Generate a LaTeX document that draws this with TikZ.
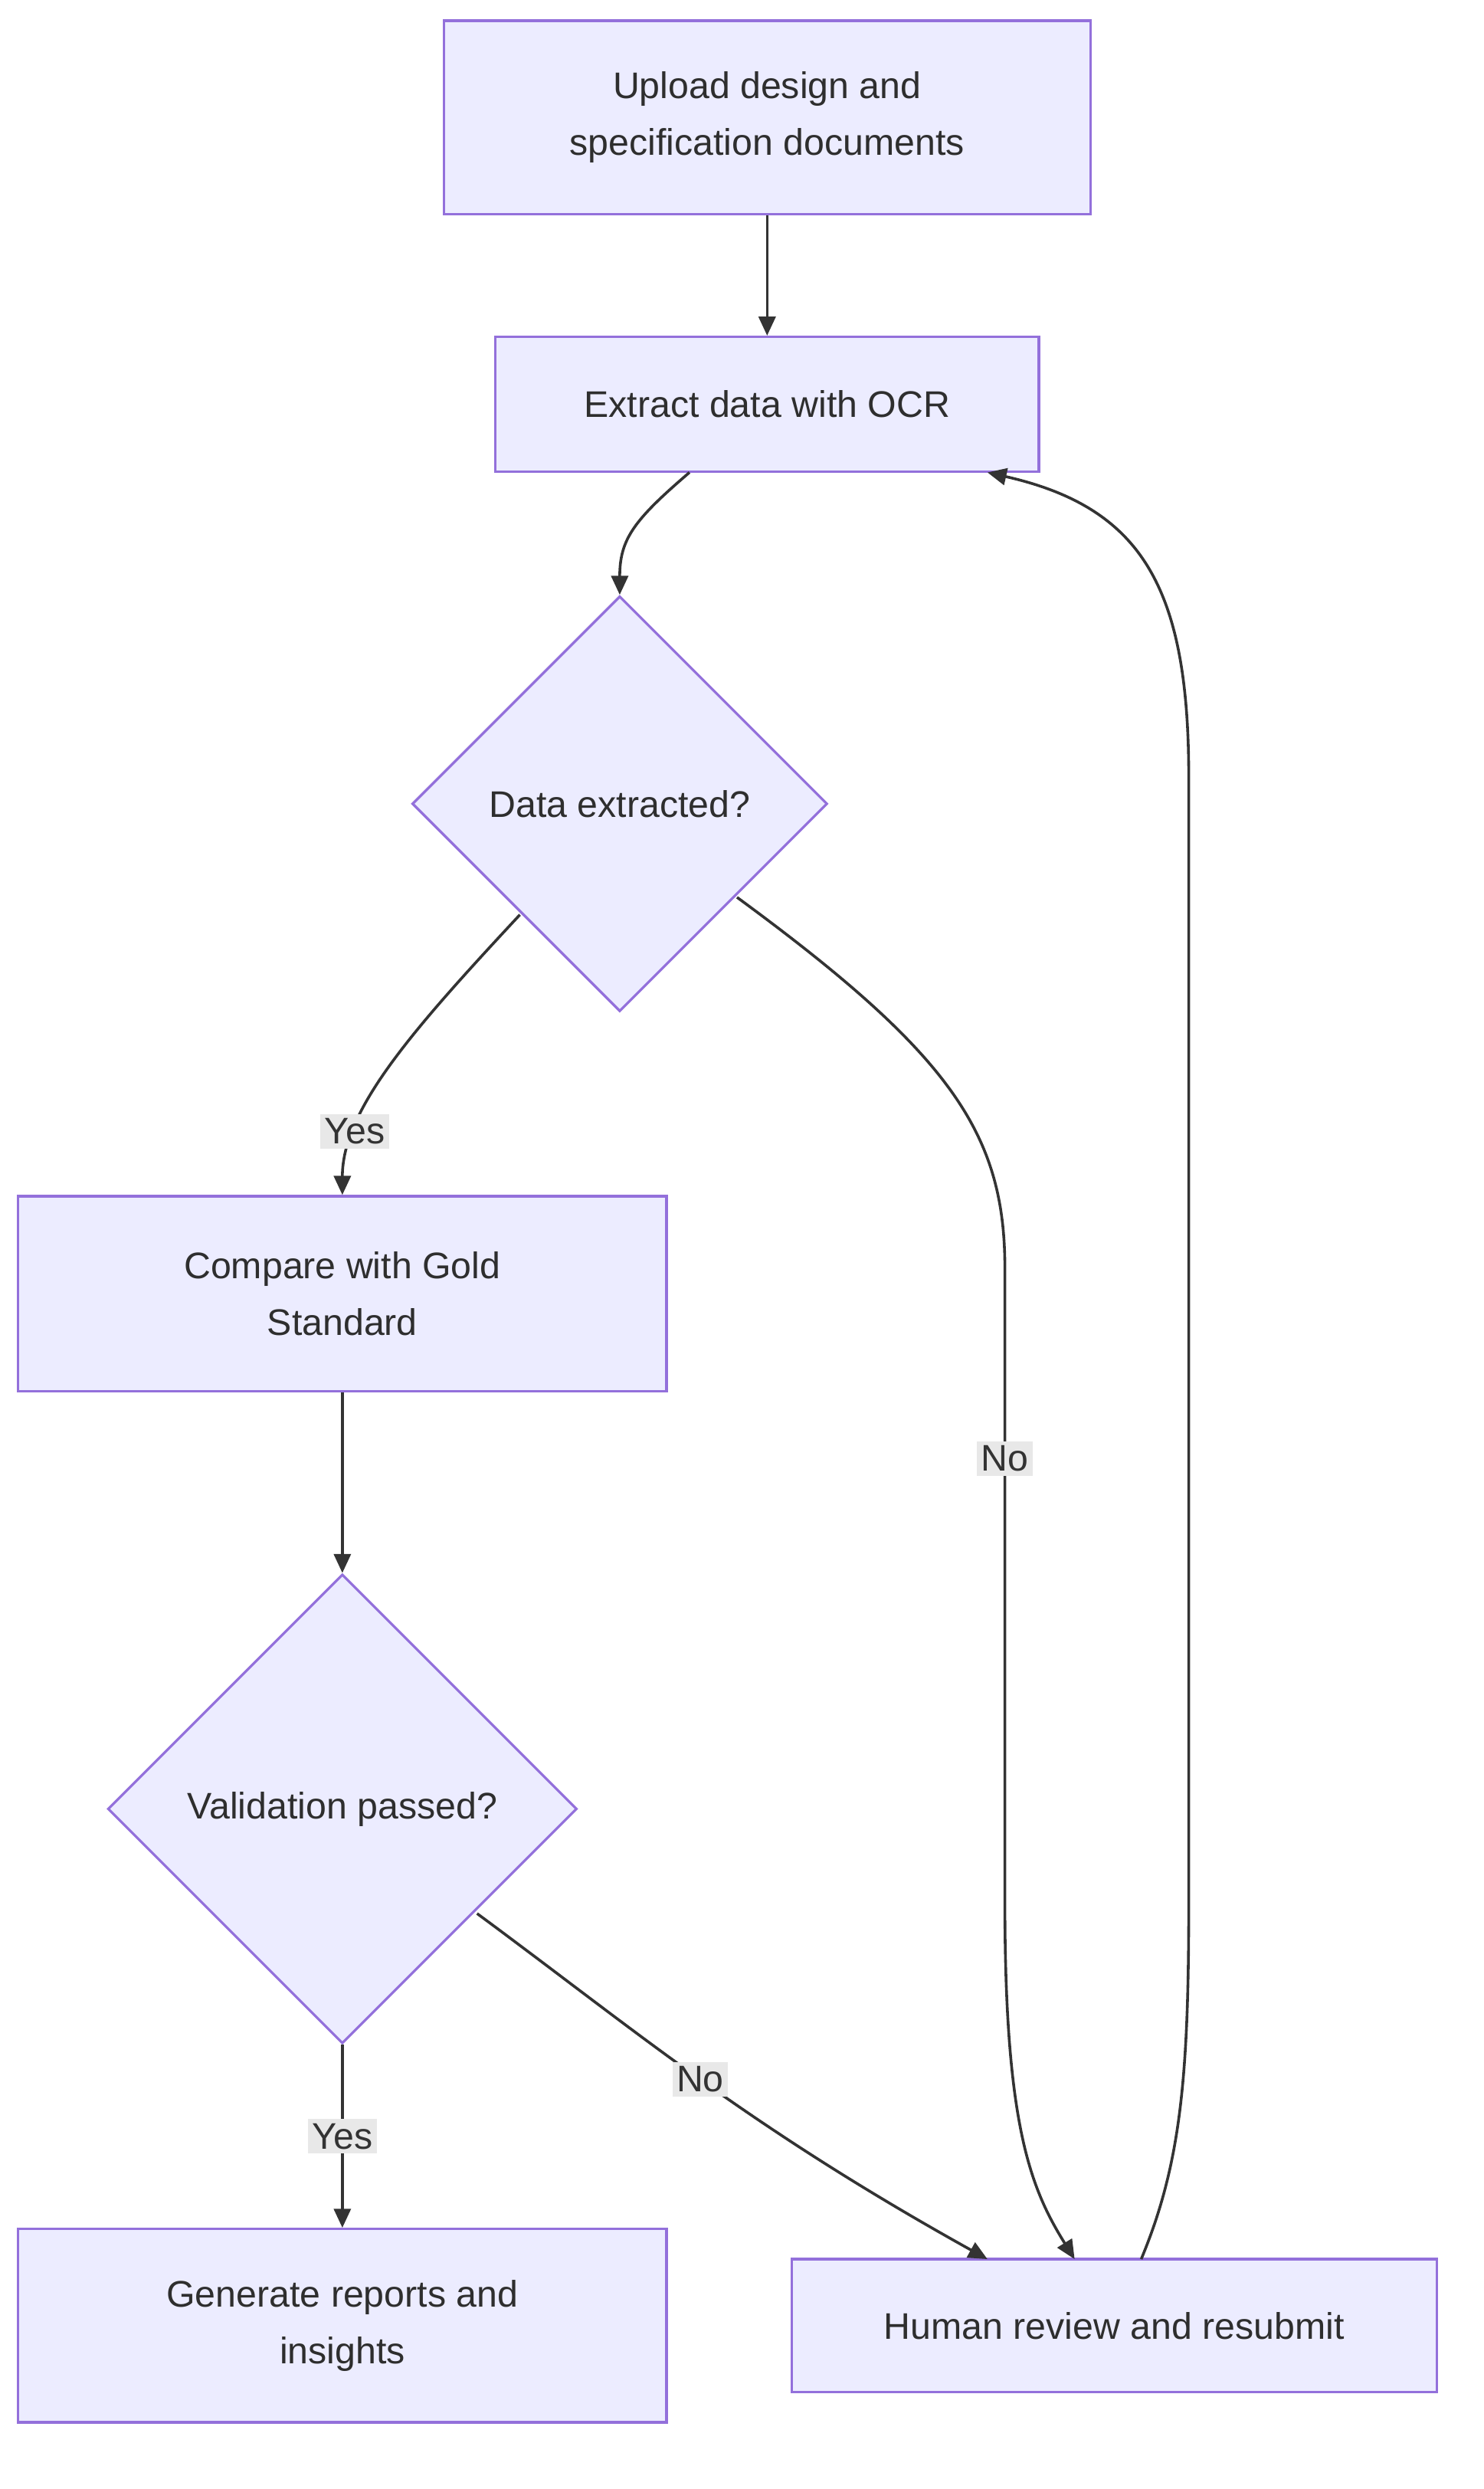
\documentclass[tikz,border=0pt]{standalone}
\usepackage{fontspec}
\setmainfont{Liberation Sans}
\usetikzlibrary{shapes.geometric,arrows.meta}
\definecolor{nfill}{HTML}{ECECFF}
\definecolor{nline}{HTML}{9370DB}
\definecolor{ink}{HTML}{333333}
\definecolor{lbl}{HTML}{E8E8E8}
\begin{document}
\begin{tikzpicture}[x=0.75pt,y=-0.75pt,
  font=\fontsize{17.5}{27}\selectfont, text=ink!90!black,
  box/.style={draw=nline,fill=nfill,line width=1.2pt,align=center,inner sep=0pt},
  dia/.style={draw=nline,fill=nfill,line width=1.2pt,diamond,inner sep=0pt,align=center},
  edge/.style={draw=ink,line width=1.3pt,-{Triangle[length=9pt,width=8pt]}},
  lab/.style={fill=lbl,inner sep=2pt,text=ink}]
\useasboundingbox (0,0) rectangle (936,1570);
\node[box,minimum width=408*0.75pt,minimum height=122*0.75pt] (b1) at (484,74) {Upload design and\\specification documents};
\node[box,minimum width=343*0.75pt,minimum height=85*0.75pt] (b2) at (484,255) {Extract data with OCR};
\node[dia,minimum width=262*0.75pt,minimum height=262*0.75pt] (d1) at (391,507) {Data extracted?};
\node[box,minimum width=409*0.75pt,minimum height=123*0.75pt] (b3) at (216,816) {Compare with Gold\\Standard};
\node[dia,minimum width=296*0.75pt,minimum height=296*0.75pt] (d2) at (216,1141) {Validation passed?};
\node[box,minimum width=409*0.75pt,minimum height=122*0.75pt] (b4) at (216,1467) {Generate reports and\\insights};
\node[box,minimum width=407*0.75pt,minimum height=84*0.75pt] (b5) at (703,1467) {Human review and resubmit};
\coordinate (b2a) at (435,298);
\coordinate (d1l) at (328,577);
\coordinate (d1r) at (465,566);
\coordinate (d2r) at (301,1207);
\coordinate (b5a) at (678,1425);
\coordinate (b5b) at (623,1425);
\coordinate (b5c) at (720,1425);
\coordinate (b2b) at (623,298);
\draw[edge] (b1) -- (b2);
\draw[edge] (b2a) .. controls (400,328) and (391,340) .. (d1.north);
\draw[edge] (d1l) .. controls (260,650) and (216,700) .. node[lab,pos=0.75] (y1) {Yes} (b3.north);
\draw[edge] (d1r) .. controls (600,665) and (634,715) .. (634,800) -- node[lab,pos=0.3] (n1) {No} (634,1200) .. controls (634,1340) and (650,1380) .. (b5a);
\draw[edge] (b3) -- (d2);
\draw[edge] (d2.south) -- node[lab] (y2) {Yes} (b4.north);
\draw[edge] (d2r) .. controls (400,1280) and (470,1340) .. node[lab,pos=0.5] (n2) {No} (b5b);
\draw[edge] (b5c) .. controls (745,1365) and (750,1310) .. (750,1200) -- (750,490) .. controls (750,370) and (720,320) .. (b2b);
\end{tikzpicture}
\end{document}
